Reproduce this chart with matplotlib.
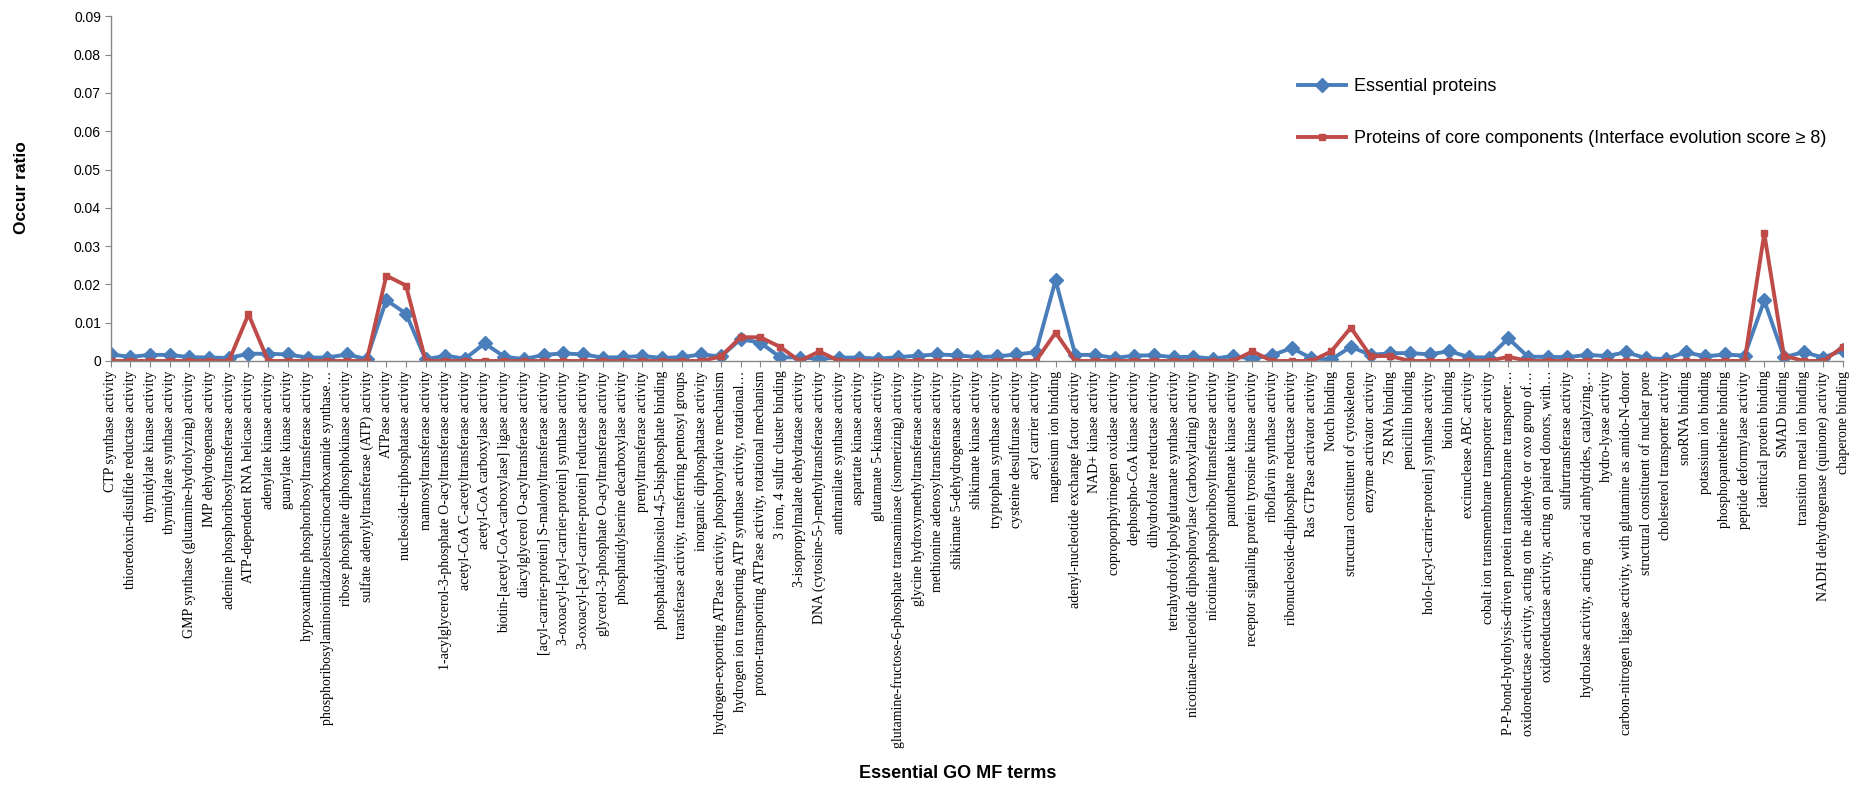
import numpy as np
import matplotlib
matplotlib.use("Agg")
import matplotlib.pyplot as plt

# GO MF terms along the x axis
terms = [
    "CTP synthase activity",
    "thioredoxin-disulfide reductase activity",
    "thymidylate kinase activity",
    "thymidylate synthase activity",
    "GMP synthase (glutamine-hydrolyzing) activity",
    "IMP dehydrogenase activity",
    "adenine phosphoribosyltransferase activity",
    "ATP-dependent RNA helicase activity",
    "adenylate kinase activity",
    "guanylate kinase activity",
    "hypoxanthine phosphoribosyltransferase activity",
    "phosphoribosylaminoimidazolesuccinocarboxamide synthase…",
    "ribose phosphate diphosphokinase activity",
    "sulfate adenylyltransferase (ATP) activity",
    "ATPase activity",
    "nucleoside-triphosphatase activity",
    "mannosyltransferase activity",
    "1-acylglycerol-3-phosphate O-acyltransferase activity",
    "acetyl-CoA C-acetyltransferase activity",
    "acetyl-CoA carboxylase activity",
    "biotin-[acetyl-CoA-carboxylase] ligase activity",
    "diacylglycerol O-acyltransferase activity",
    "[acyl-carrier-protein] S-malonyltransferase activity",
    "3-oxoacyl-[acyl-carrier-protein] synthase activity",
    "3-oxoacyl-[acyl-carrier-protein] reductase activity",
    "glycerol-3-phosphate O-acyltransferase activity",
    "phosphatidylserine decarboxylase activity",
    "prenyltransferase activity",
    "phosphatidylinositol-4,5-bisphosphate binding",
    "transferase activity, transferring pentosyl groups",
    "inorganic diphosphatase activity",
    "hydrogen-exporting ATPase activity, phosphorylative mechanism",
    "hydrogen ion transporting ATP synthase activity, rotational…",
    "proton-transporting ATPase activity, rotational mechanism",
    "3 iron, 4 sulfur cluster binding",
    "3-isopropylmalate dehydratase activity",
    "DNA (cytosine-5-)-methyltransferase activity",
    "anthranilate synthase activity",
    "aspartate kinase activity",
    "glutamate 5-kinase activity",
    "glutamine-fructose-6-phosphate transaminase (isomerizing) activity",
    "glycine hydroxymethyltransferase activity",
    "methionine adenosyltransferase activity",
    "shikimate 5-dehydrogenase activity",
    "shikimate kinase activity",
    "tryptophan synthase activity",
    "cysteine desulfurase activity",
    "acyl carrier activity",
    "magnesium ion binding",
    "adenyl-nucleotide exchange factor activity",
    "NAD+ kinase activity",
    "coproporphyrinogen oxidase activity",
    "dephospho-CoA kinase activity",
    "dihydrofolate reductase activity",
    "tetrahydrofolylpolyglutamate synthase activity",
    "nicotinate-nucleotide diphosphorylase (carboxylating) activity",
    "nicotinate phosphoribosyltransferase activity",
    "pantothenate kinase activity",
    "receptor signaling protein tyrosine kinase activity",
    "riboflavin synthase activity",
    "ribonucleoside-diphosphate reductase activity",
    "Ras GTPase activator activity",
    "Notch binding",
    "structural constituent of cytoskeleton",
    "enzyme activator activity",
    "7S RNA binding",
    "penicillin binding",
    "holo-[acyl-carrier-protein] synthase activity",
    "biotin binding",
    "excinuclease ABC activity",
    "cobalt ion transmembrane transporter activity",
    "P-P-bond-hydrolysis-driven protein transmembrane transporter…",
    "oxidoreductase activity, acting on the aldehyde or oxo group of…",
    "oxidoreductase activity, acting on paired donors, with…",
    "sulfurtransferase activity",
    "hydrolase activity, acting on acid anhydrides, catalyzing…",
    "hydro-lyase activity",
    "carbon-nitrogen ligase activity, with glutamine as amido-N-donor",
    "structural constituent of nuclear pore",
    "cholesterol transporter activity",
    "snoRNA binding",
    "potassium ion binding",
    "phosphopantetheine binding",
    "peptide deformylase activity",
    "identical protein binding",
    "SMAD binding",
    "transition metal ion binding",
    "NADH dehydrogenase (quinone) activity",
    "chaperone binding",
]

essential = [
    0.0017, 0.0011, 0.0016, 0.0016, 0.0010, 0.0009, 0.0008, 0.0019, 0.0019, 0.0017,
    0.0009, 0.0009, 0.0017, 0.0005, 0.0159, 0.0124, 0.0004, 0.0014, 0.0006, 0.0046,
    0.0011, 0.0005, 0.0016, 0.0020, 0.0017, 0.0009, 0.0010, 0.0013, 0.0008, 0.0010,
    0.0017, 0.0012, 0.0057, 0.0048, 0.0010, 0.0009, 0.0006, 0.0009, 0.0009, 0.0006,
    0.0010, 0.0014, 0.0017, 0.0015, 0.0010, 0.0012, 0.0017, 0.0023, 0.0211, 0.0016,
    0.0016, 0.0008, 0.0014, 0.0015, 0.0010, 0.0011, 0.0006, 0.0013, 0.0006, 0.0015,
    0.0034, 0.0007, 0.0004, 0.0037, 0.0016, 0.0020, 0.0021, 0.0017, 0.0026, 0.0010,
    0.0009, 0.0059, 0.0011, 0.0011, 0.0010, 0.0016, 0.0013, 0.0023, 0.0007, 0.0005,
    0.0023, 0.0012, 0.0017, 0.0014, 0.0158, 0.0010, 0.0023, 0.0009, 0.0028,
]

core = [
    0, 0, 0, 0, 0, 0, 0, 0.0122, 0, 0,
    0, 0, 0, 0, 0.0223, 0.0197, 0, 0, 0, 0,
    0, 0, 0, 0, 0, 0, 0, 0, 0, 0,
    0, 0.0012, 0.0062, 0.0062, 0.0037, 0, 0.0025, 0, 0, 0,
    0, 0, 0, 0, 0, 0, 0, 0, 0.0074, 0,
    0, 0, 0, 0, 0, 0, 0, 0, 0.0025, 0,
    0, 0, 0.0025, 0.0087, 0.0013, 0.0013, 0, 0, 0, 0,
    0, 0.0011, 0, 0, 0, 0, 0, 0, 0, 0,
    0, 0, 0, 0, 0.0333, 0.0014, 0, 0, 0.0037,
]

yticks = [0, 0.01, 0.02, 0.03, 0.04, 0.05, 0.06, 0.07, 0.08, 0.09]
ytick_labels = ["0", "0.01", "0.02", "0.03", "0.04", "0.05", "0.06", "0.07", "0.08", "0.09"]

blue = "#4A7EBB"
red = "#BE4B48"
grey = "#868686"
sans = ["Liberation Sans", "DejaVu Sans"]
serif = ["Liberation Serif", "DejaVu Serif"]

W, H = 1867, 790
fig = plt.figure(figsize=(W / 100, H / 100), dpi=100)
ax = fig.add_axes([110.7 / W, 1 - 361 / H, (1843 - 110.7) / W, (361 - 16.3) / H])

x = np.arange(len(terms))
ax.plot(x, essential, color=blue, lw=2.8, marker="D", ms=7, label="Essential proteins")
ax.plot(x, core, color=red, lw=2.8, marker="s", ms=4.5,
        label="Proteins of core components (Interface evolution score \u2265 8)")

ax.set_xlim(0, len(terms) - 1)
ax.set_ylim(0, 0.09)
ax.set_yticks(yticks)
ax.set_yticklabels(ytick_labels, family=sans, fontsize=10)
ax.set_xticks(x)
ax.set_xticklabels(terms, rotation=90, family=serif, fontsize=10)

for s in ["top", "right"]:
    ax.spines[s].set_visible(False)
for s in ["left", "bottom"]:
    ax.spines[s].set_color(grey)
    ax.spines[s].set_linewidth(1)
ax.tick_params(axis="x", length=4, color=grey, pad=3)
ax.tick_params(axis="y", length=4, color=grey, pad=3)

fig.text(21 / W, 1 - 188 / H, "Occur ratio", rotation=90, ha="center", va="center",
         family=sans, fontsize=12.5, fontweight="bold")
fig.text(958 / W, 1 - 774 / H, "Essential GO MF terms", ha="center", va="center",
         family=sans, fontsize=13, fontweight="bold")

leg = ax.legend(loc="upper left", bbox_to_anchor=(1298 / W, 1 - 78 / H),
                bbox_transform=fig.transFigure, frameon=False, borderpad=0,
                borderaxespad=0, handlelength=2.66, handletextpad=0.45,
                labelspacing=1.93, prop={"family": sans, "size": 13})

fig.savefig("out.png", dpi=100)
